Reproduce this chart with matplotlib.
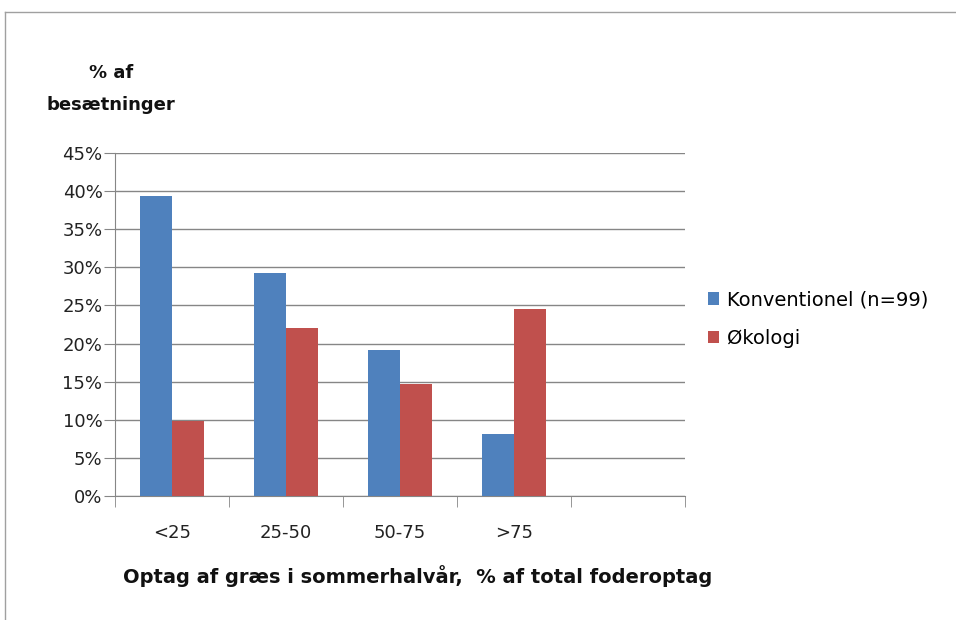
import matplotlib.pyplot as plt
import numpy as np
from matplotlib.lines import Line2D

plt.rcParams['font.family'] = ['DejaVu Sans']

categories = ['<25', '25-50', '50-75', '>75', '']
konventionel = [39.4, 29.3, 19.2, 8.1]
okologi = [9.8, 22.1, 14.7, 24.5]
yticks = [0, 5, 10, 15, 20, 25, 30, 35, 40, 45]

fig = plt.figure(figsize=(9.56, 6.2), dpi=100)
ax = fig.add_axes([115/956, 1-496/620, 570/956, (496-153)/620])

x = np.arange(len(konventionel))
w = 0.28
ax.bar(x - w/2, konventionel, w, color='#4F81BD', zorder=3, label='Konventionel (n=99)')
ax.bar(x + w/2, okologi, w, color='#C0504D', zorder=3, label='Økologi')

ax.set_xlim(-0.5, len(categories) - 0.5)
ax.set_ylim(0, 45)
ax.set_yticks(yticks)
ax.set_yticklabels([f'{v}%' for v in yticks], fontsize=13, color='#222222')
ax.set_xticks(np.arange(len(categories)))
ax.set_xticklabels(categories, fontsize=13, color='#222222')
ax.set_xticks(np.arange(len(categories) + 1) - 0.5, minor=True)
ax.tick_params(axis='x', which='major', length=0, pad=20)
ax.tick_params(axis='x', which='minor', length=8, color='#868686', direction='out')
ax.tick_params(axis='y', length=8, color='#868686', direction='out', pad=1)
ax.yaxis.grid(True, color='#868686', linewidth=1, zorder=0)
for s in ['top', 'right']:
    ax.spines[s].set_visible(False)
for s in ['left', 'bottom']:
    ax.spines[s].set_color('#868686')

fig.text(111/956, 1-73/620, '% af', ha='center', va='center', fontsize=13, fontweight='bold', color='#111111')
fig.text(111/956, 1-105/620, 'besætninger', ha='center', va='center', fontsize=13, fontweight='bold', color='#111111')
fig.text(418/956, 1-576/620, 'Optag af græs i sommerhalvår,  % af total foderoptag',
         ha='center', va='center', fontsize=14, fontweight='bold', color='#111111')

handles, labels = ax.get_legend_handles_labels()
fig.legend(handles, labels, loc='center left', bbox_to_anchor=(690/956, 1-319/620),
           frameon=False, fontsize=14, handlelength=0.6, handleheight=0.6,
           handletextpad=0.4, labelspacing=1.0)

# thin frame at top and left of the image
fig.add_artist(Line2D([5/956, 1], [1-12/620, 1-12/620], color='#A0A0A0', linewidth=1))
fig.add_artist(Line2D([5/956, 5/956], [0, 1-12/620], color='#A0A0A0', linewidth=1))

plt.savefig('out.png', dpi=100)
